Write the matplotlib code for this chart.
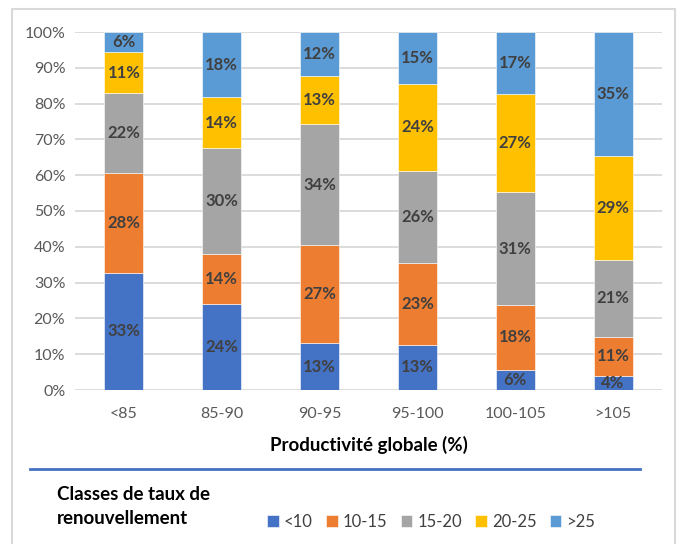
import matplotlib.pyplot as plt
from matplotlib.patches import Rectangle
from matplotlib.lines import Line2D

plt.rcParams['font.family'] = ['Lato', 'DejaVu Sans']

# Productivity classes (x axis)
categories = ['<85', '85-90', '90-95', '95-100', '100-105', '>105']
# Share of each renewal-rate class, in %
s_lt10 = [32.7, 24.0, 13.1, 12.6, 5.6, 3.9]
s_10_15 = [27.9, 13.9, 27.4, 23.0, 18.2, 11.0]
s_15_20 = [22.4, 29.6, 33.8, 25.7, 31.4, 21.4]
s_20_25 = [11.3, 14.3, 13.4, 24.1, 27.4, 29.0]
s_gt25 = [5.7, 18.2, 12.3, 14.6, 17.4, 34.7]
series = [s_lt10, s_10_15, s_15_20, s_20_25, s_gt25]
series_names = ['<10', '10-15', '15-20', '20-25', '>25']
colors = ['#4472C4', '#ED7D31', '#A5A5A5', '#FFC000', '#5B9BD5']

W, H = 677, 544
fig = plt.figure(figsize=(W / 100, H / 100), dpi=100)
ax = fig.add_axes([75 / W, 1 - 390 / H, (662 - 75) / W, (390 - 32) / H])

x = range(len(categories))
bottom = [0] * len(categories)
for vals, name, col in zip(series, series_names, colors):
    ax.bar(x, vals, bottom=bottom, width=0.4, color=col, label=name,
           edgecolor='white', linewidth=0.4, zorder=3)
    for i, v in enumerate(vals):
        ax.text(i, bottom[i] + v / 2, f"{v:.0f}%", ha='center', va='center',
                fontsize=12, fontweight='bold', color='#404040', zorder=4)
    bottom = [b + v for b, v in zip(bottom, vals)]

ax.set_xlim(-0.5, len(categories) - 0.5)
ax.set_ylim(0, 100)
ax.set_yticks(range(0, 101, 10))
ax.set_yticklabels([f"{t}%" for t in range(0, 101, 10)])
ax.set_xticks(list(x))
ax.set_xticklabels(categories)
ax.tick_params(length=0, labelsize=11.5, colors='#595959')
ax.tick_params(axis='x', pad=12)
ax.tick_params(axis='y', pad=7)
ax.grid(axis='y', color='#D9D9D9', linewidth=1.3, zorder=0)
for sp in ax.spines.values():
    sp.set_visible(False)

ax.set_xlabel('Productivité globale (%)', fontsize=13.5, fontweight='bold',
              color='black', labelpad=11)

# outer chart border
fig.patches.append(Rectangle((12 / W, -0.05), (675 - 12) / W, 1.05 - 9 / H,
                             transform=fig.transFigure, fill=False,
                             edgecolor='#D9D9D9', linewidth=1.5))
# blue separator line
fig.add_artist(Line2D([30 / W, 640 / W], [1 - 469 / H, 1 - 469 / H],
                      color='#4472C4', linewidth=2))

fig.text(57 / W, 1 - 506 / H, 'Classes de taux de\nrenouvellement',
         fontsize=13.5, fontweight='bold', va='center', ha='left',
         linespacing=1.5)

handles, labels = ax.get_legend_handles_labels()
fig.legend(handles, labels, loc='center left', ncol=5,
           bbox_to_anchor=(252 / W, 1 - 522 / H), frameon=False,
           fontsize=12, handlelength=0.7, handleheight=0.7,
           handletextpad=0.3, columnspacing=0.8, labelcolor='#404040')

fig.savefig('out.png', dpi=100)
